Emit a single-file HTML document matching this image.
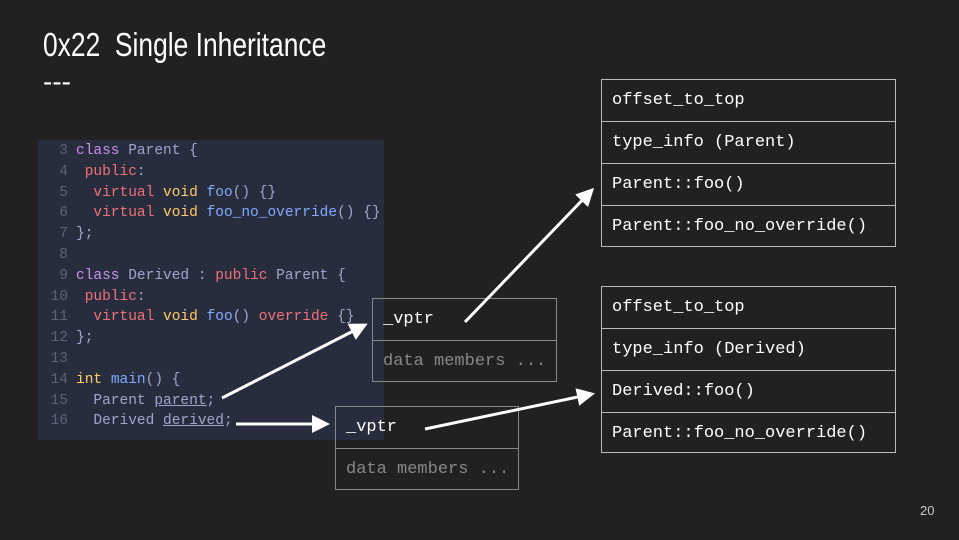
<!DOCTYPE html><html><head><style>
body{margin:0;width:959px;height:540px;background:#212121;position:relative;overflow:hidden;font-family:"Liberation Mono",monospace}
.t{position:absolute;color:#fff}
.code{position:absolute;left:38px;top:140px;width:346px;height:300px;background:#282d3e}
.ln{position:absolute;left:38px;width:30px;text-align:right;color:#5d6275;font-size:14.5px}
.cl{position:absolute;left:76px;font-size:14.5px;color:#9ea6cc;white-space:pre}
.k{color:#c792ea}.r{color:#f07178}.y{color:#ffcb6b}.b{color:#82aaff}.u{text-decoration:underline}
.tb{position:absolute;border:1px solid #bbb;box-sizing:border-box}
.row{height:42px;border-bottom:1px solid #bbb;box-sizing:border-box;font-size:17px;line-height:42px;padding-left:10px;color:#fff;white-space:pre}
.row:last-child{border-bottom:none}
.ob{position:absolute;border:1px solid #888;box-sizing:border-box}
.ob .row{border-color:#888}
</style></head><body>
<div class="t" style="left:43px;top:26px;font-family:'Liberation Sans',sans-serif;font-size:33px;transform:scaleX(0.8);transform-origin:0 0;white-space:pre">0x22  Single Inheritance</div>
<div class="t" style="left:43px;top:66px;font-family:'Liberation Sans',sans-serif;font-size:28px">---</div>
<div class="code"></div>
<div id="code"></div>
<script>
var L=[[3,'<span class=k>class</span> Parent {'],[4,' <span class=r>public</span>:'],[5,'  <span class=r>virtual</span> <span class=y>void</span> <span class=b>foo</span>() {}'],[6,'  <span class=r>virtual</span> <span class=y>void</span> <span class=b>foo_no_override</span>() {}'],[7,'};'],[8,''],[9,'<span class=k>class</span> Derived : <span class=r>public</span> Parent {'],[10,' <span class=r>public</span>:'],[11,'  <span class=r>virtual</span> <span class=y>void</span> <span class=b>foo</span>() <span class=r>override</span> {}'],[12,'};'],[13,''],[14,'<span class=y>int</span> <span class=b>main</span>() {'],[15,'  Parent <span class=u>parent</span>;'],[16,'  Derived <span class=u>derived</span>;']];
var h='';L.forEach(function(l,i){var y=143+i*20.8;h+='<div class=ln style="top:'+y+'px">'+l[0]+'</div><div class=cl style="top:'+y+'px">'+l[1]+'</div>';});
document.getElementById('code').innerHTML=h;
</script>
<div class="tb" style="left:601px;top:79px;width:295px;height:168px">
<div class="row">offset_to_top</div><div class="row">type_info (Parent)</div><div class="row">Parent::foo()</div><div class="row">Parent::foo_no_override()</div></div>
<div class="tb" style="left:601px;top:286px;width:295px;height:167px">
<div class="row">offset_to_top</div><div class="row">type_info (Derived)</div><div class="row">Derived::foo()</div><div class="row">Parent::foo_no_override()</div></div>
<div class="ob" style="left:372px;top:298px;width:185px;height:84px">
<div class="row">_vptr</div><div class="row" style="color:#888">data members ...</div></div>
<div class="ob" style="left:335px;top:406px;width:184px;height:84px">
<div class="row">_vptr</div><div class="row" style="color:#888">data members ...</div></div>
<svg style="position:absolute;left:0;top:0" width="959" height="540">
<defs><marker id="a" markerWidth="6" markerHeight="6" refX="5" refY="3" orient="auto" markerUnits="strokeWidth"><path d="M0,0L6,3L0,6z" fill="#fff"/></marker></defs>
<g stroke="#fff" stroke-width="3" fill="none" marker-end="url(#a)">
<line x1="465" y1="322" x2="592" y2="190"/>
<line x1="222" y1="398" x2="365" y2="325"/>
<line x1="236" y1="424" x2="327" y2="424"/>
<line x1="425" y1="429" x2="592" y2="394"/>
</g></svg>
<div class="t" style="left:920px;top:503px;font-family:'Liberation Sans',sans-serif;font-size:13px;color:#ccc">20</div>
</body></html>
